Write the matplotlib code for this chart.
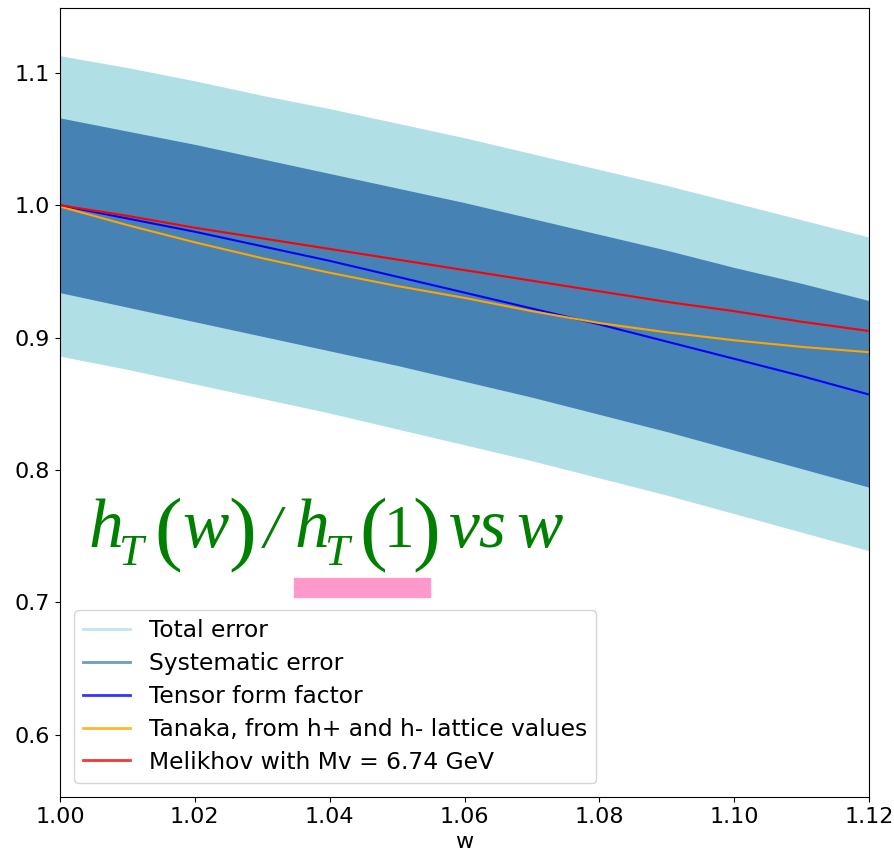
import matplotlib
matplotlib.use("Agg")
import matplotlib.pyplot as plt
from matplotlib.lines import Line2D
from matplotlib.patches import Rectangle

# values
w = [1.00, 1.01, 1.02, 1.03, 1.04, 1.05, 1.06, 1.07, 1.08, 1.09, 1.10, 1.11, 1.12]
tensor = [1.000, 0.990, 0.980, 0.969, 0.958, 0.946, 0.934, 0.922, 0.910, 0.897, 0.884, 0.871, 0.857]
tanaka = [0.999, 0.985, 0.972, 0.960, 0.949, 0.939, 0.930, 0.920, 0.911, 0.904, 0.898, 0.893, 0.889]
melikhov = [1.000, 0.992, 0.983, 0.975, 0.967, 0.959, 0.951, 0.943, 0.935, 0.927, 0.920, 0.912, 0.905]
syst_hi = [1.066, 1.056, 1.046, 1.035, 1.024, 1.013, 1.002, 0.990, 0.978, 0.966, 0.953, 0.941, 0.928]
syst_lo = [0.934, 0.923, 0.912, 0.901, 0.890, 0.879, 0.867, 0.855, 0.842, 0.829, 0.815, 0.801, 0.787]
tot_hi = [1.113, 1.104, 1.094, 1.083, 1.073, 1.062, 1.051, 1.039, 1.027, 1.015, 1.002, 0.989, 0.976]
tot_lo = [0.886, 0.876, 0.865, 0.854, 0.843, 0.831, 0.819, 0.807, 0.794, 0.781, 0.767, 0.753, 0.739]

labels = ["Total error", "Systematic error", "Tensor form factor",
          "Tanaka, from h+ and h- lattice values", "Melikhov with Mv = 6.74 GeV"]
colors = ["powderblue", "steelblue", "blue", "orange", "red"]

W, H, DPI = 895, 852, 100
fig = plt.figure(figsize=(W / DPI, H / DPI), dpi=DPI)
ax = fig.add_axes([0.067, 0.0646, 0.904, 0.926])

ax.fill_between(w, tot_lo, tot_hi, color="powderblue", lw=0)
ax.fill_between(w, syst_lo, syst_hi, color="steelblue", lw=0)
ax.plot(w, tensor, color="blue", lw=1.5)
ax.plot(w, tanaka, color="orange", lw=1.5)
ax.plot(w, melikhov, color="red", lw=1.5)

ax.set_xlim(1.00, 1.12)
ax.set_ylim(0.553, 1.149)
ax.set_xticks([1.00, 1.02, 1.04, 1.06, 1.08, 1.10, 1.12])
ax.set_yticks([0.6, 0.7, 0.8, 0.9, 1.0, 1.1])
ax.tick_params(labelsize=16)
ax.set_xlabel("w", fontsize=16, labelpad=4)

handles = [Line2D([], [], color=c, lw=2, alpha=0.8) for c in colors]
ax.legend(handles, labels, loc="lower left", fontsize=16.8, labelspacing=0.42,
          borderaxespad=0.6)

# green title, drawn piece by piece so the brackets can be taller
pieces = [
    ("h", 88, 547, 50, "italic"),
    ("T", 118, 565, 32, "italic"),
    ("(", 154, 555, 60, "normal"),
    ("w", 182, 547, 50, "italic"),
    (")", 228, 555, 60, "normal"),
    ("/", 264, 547, 44, "italic"),
    ("h", 294, 547, 50, "italic"),
    ("T", 324, 565, 32, "italic"),
    ("(", 359, 555, 60, "normal"),
    ("1", 384, 547, 44, "normal"),
    (")", 412, 555, 60, "normal"),
    ("vs", 448, 547, 50, "italic"),
    ("w", 516, 547, 50, "italic"),
]
for s, px, py, size, style in pieces:
    fig.text(px / W, 1 - py / H, s, fontsize=size, style=style,
             family="Liberation Serif", color="green", ha="left", va="baseline")

fig.add_artist(Rectangle((294 / W, 1 - 597 / H), 136 / W, 19 / H,
                         transform=fig.transFigure, color="#ff99cc", zorder=5))

fig.savefig("out.png", dpi=DPI)
